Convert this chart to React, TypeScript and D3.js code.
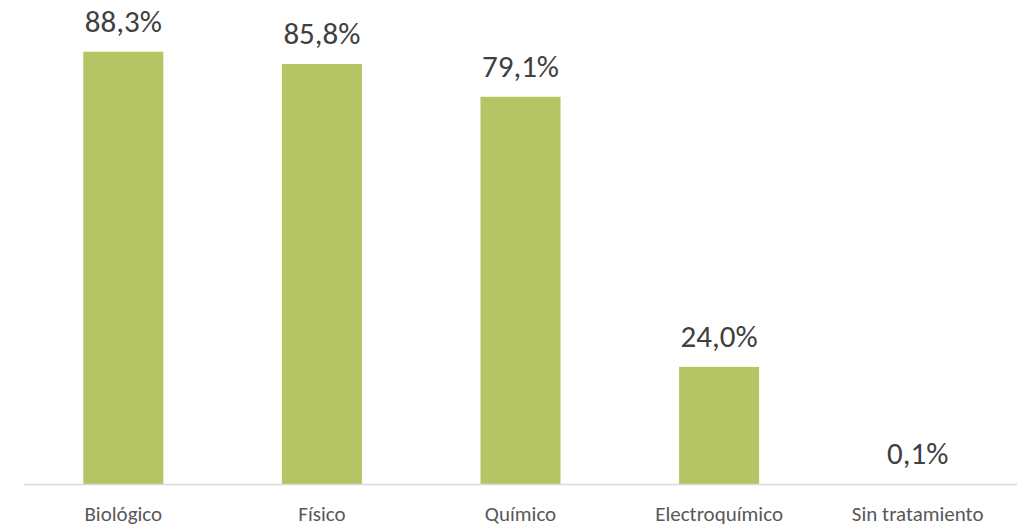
import React from "react";
import * as d3 from "d3";

const categories = ["Biológico", "Físico", "Químico", "Electroquímico", "Sin tratamiento"];
const values = [88.3, 85.8, 79.1, 24.0, 0.1];
const valueLabels = ["88,3%", "85,8%", "79,1%", "24,0%", "0,1%"];

const W = 1023;
const H = 529;
const left = 24;
const right = 1017;
const baseY = 484.5;
const FONT = "Carlito, Calibri, Lato, sans-serif";

export default function App() {
  const x = d3.scaleBand<string>().domain(categories).range([left, right]).paddingInner(0.597).paddingOuter(0.2985);
  const y = d3.scaleLinear().domain([0, 88.3]).range([baseY, 51.7]);
  return (
    <svg width={W} height={H} style={{ position: "absolute", left: 0, top: 0 }}>
      <rect width={W} height={H} fill="#ffffff" />
      {categories.map((c, i) => (
        <g key={c}>
          <rect x={x(c)} y={y(values[i])} width={x.bandwidth()} height={baseY - y(values[i])} fill="#B5C563" />
          <text x={(x(c) as number) + x.bandwidth() / 2} y={y(values[i]) - 20} textAnchor="middle" fontFamily={FONT} fontSize={31} fill="#404040">
            {valueLabels[i]}
          </text>
          <text x={(x(c) as number) + x.bandwidth() / 2} y={521} textAnchor="middle" fontFamily={FONT} fontSize={21} fill="#595959">
            {c}
          </text>
        </g>
      ))}
      <line x1={left} x2={right} y1={baseY} y2={baseY} stroke="#D9D9D9" strokeWidth={1.5} />
    </svg>
  );
}
